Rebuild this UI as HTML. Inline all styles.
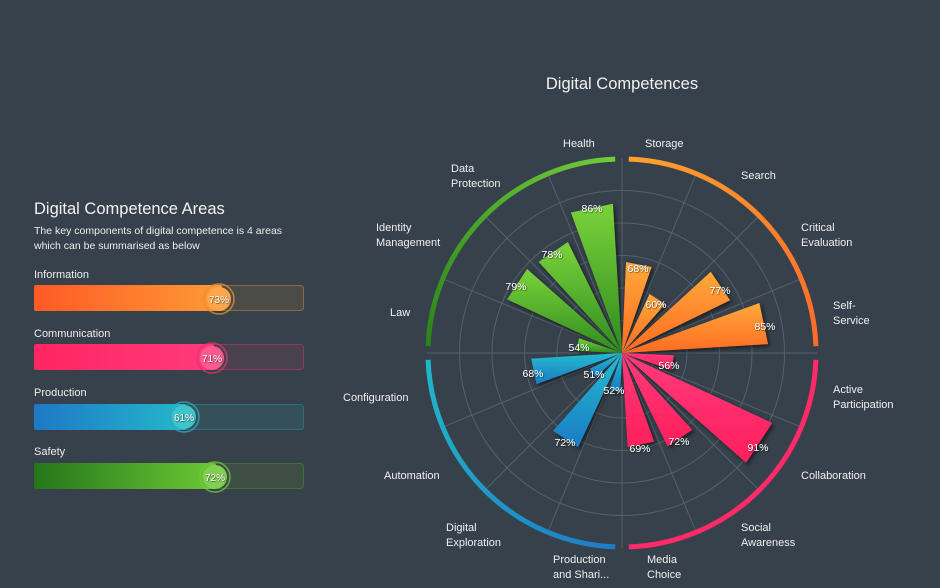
<!DOCTYPE html>
<html><head><meta charset="utf-8"><style>
body{margin:0;width:940px;height:588px;background:#36414b;overflow:hidden;font-family:"Liberation Sans",sans-serif;color:#fff}
svg{position:absolute;left:0;top:0}
</style></head><body>
<svg width="940" height="588" viewBox="0 0 940 588">
<defs>
<filter id="sh" x="-20%" y="-20%" width="140%" height="140%"><feDropShadow dx="2" dy="2" stdDeviation="2" flood-color="#000" flood-opacity="0.55"/></filter>
<filter id="ts"><feDropShadow dx="0.6" dy="0.6" stdDeviation="0.6" flood-color="#000" flood-opacity="0.8"/></filter>
<linearGradient id="og" x1="0" y1="0" x2="0" y2="1"><stop offset="0" stop-color="#ffa93a"/><stop offset="1" stop-color="#ff6a22"/></linearGradient>
<linearGradient id="pg" x1="0" y1="0" x2="0" y2="1"><stop offset="0" stop-color="#ff3a7c"/><stop offset="1" stop-color="#ff1f5c"/></linearGradient>
<linearGradient id="bg" x1="0" y1="0" x2="0" y2="1"><stop offset="0" stop-color="#22bcd0"/><stop offset="1" stop-color="#1d7bc4"/></linearGradient>
<linearGradient id="gg" x1="0" y1="0" x2="0" y2="1"><stop offset="0" stop-color="#7ad33a"/><stop offset="1" stop-color="#2f8a1f"/></linearGradient>
<linearGradient id="ro" gradientUnits="userSpaceOnUse" x1="628" y1="159" x2="816" y2="346"><stop offset="0" stop-color="#ffa030"/><stop offset="1" stop-color="#ff6a2a"/></linearGradient>
<linearGradient id="rb" gradientUnits="userSpaceOnUse" x1="428" y1="360" x2="615" y2="547"><stop offset="0" stop-color="#20b8c8"/><stop offset="1" stop-color="#1f7cc4"/></linearGradient>
<linearGradient id="rg" gradientUnits="userSpaceOnUse" x1="428" y1="346" x2="615" y2="159"><stop offset="0" stop-color="#2a841c"/><stop offset="1" stop-color="#72cb3a"/></linearGradient>
<linearGradient id="lo" x1="0" x2="1"><stop offset="0" stop-color="#ff5a25"/><stop offset="1" stop-color="#ff9a35"/></linearGradient>
<linearGradient id="lp" x1="0" x2="1"><stop offset="0" stop-color="#ff2560"/><stop offset="1" stop-color="#ff3a7c"/></linearGradient>
<linearGradient id="lb" x1="0" x2="1"><stop offset="0" stop-color="#1f78c4"/><stop offset="1" stop-color="#22b8cc"/></linearGradient>
<linearGradient id="lg" x1="0" x2="1"><stop offset="0" stop-color="#25761a"/><stop offset="1" stop-color="#6cc836"/></linearGradient>
</defs>

<!-- Left panel -->
<text x="34" y="214" font-size="16.5" fill="#f2f2f2">Digital Competence Areas</text>
<text x="34" y="234" font-size="10.5" fill="#eee">The key components of digital competence is 4 areas</text>
<text x="34" y="249" font-size="10.5" fill="#eee">which can be summarised as below</text>

<text x="34" y="278" font-size="11" fill="#eee">Information</text>
<rect x="34.5" y="285.5" width="269" height="25" rx="3" fill="#4b4c47" stroke="#8a6a3a"/>
<rect x="34" y="285" width="188" height="26" rx="2" fill="url(#lo)"/>
<circle cx="219" cy="299" r="15" fill="none" stroke="#e89030" stroke-width="1.5" opacity="0.8"/>
<circle cx="219" cy="299" r="12" fill="#ffa64a"/>
<text x="219" y="303" font-size="10" text-anchor="middle" fill="#fff" filter="url(#ts)">73%</text>

<text x="34" y="337" font-size="11" fill="#eee">Communication</text>
<rect x="34.5" y="344.5" width="269" height="25" rx="3" fill="#4a414f" stroke="#8e3a5e"/>
<rect x="34" y="344" width="180" height="26" rx="2" fill="url(#lp)"/>
<circle cx="212" cy="358" r="15" fill="none" stroke="#e8306a" stroke-width="1.5" opacity="0.8"/>
<circle cx="212" cy="358" r="12" fill="#ff5a90"/>
<text x="212" y="362" font-size="10" text-anchor="middle" fill="#fff" filter="url(#ts)">71%</text>

<text x="34" y="396" font-size="11" fill="#eee">Production</text>
<rect x="34.5" y="404.5" width="269" height="25" rx="3" fill="#36505a" stroke="#2a7080"/>
<rect x="34" y="404" width="152" height="26" rx="2" fill="url(#lb)"/>
<circle cx="184" cy="417" r="15" fill="none" stroke="#28b0c0" stroke-width="1.5" opacity="0.8"/>
<circle cx="184" cy="417" r="12" fill="#40c4cc"/>
<text x="184" y="421" font-size="10" text-anchor="middle" fill="#fff" filter="url(#ts)">61%</text>

<text x="34" y="455" font-size="11" fill="#eee">Safety</text>
<rect x="34.5" y="463.5" width="269" height="25" rx="3" fill="#3e4e45" stroke="#3e7038"/>
<rect x="34" y="463" width="182" height="26" rx="2" fill="url(#lg)"/>
<circle cx="215" cy="477" r="15" fill="none" stroke="#70c840" stroke-width="1.5" opacity="0.8"/>
<circle cx="215" cy="477" r="12" fill="#80d050"/>
<text x="215" y="481" font-size="10" text-anchor="middle" fill="#fff" filter="url(#ts)">72%</text>

<!-- Chart title -->
<text x="622" y="89" font-size="16.5" text-anchor="middle" fill="#f0f0f0">Digital Competences</text>

<!-- grid -->
<g fill="none" stroke="#56616b" stroke-width="1">
<circle cx="622" cy="353" r="32.5"/><circle cx="622" cy="353" r="65"/><circle cx="622" cy="353" r="97.5"/><circle cx="622" cy="353" r="130"/><circle cx="622" cy="353" r="162.5"/>
<line x1="622" y1="353" x2="622" y2="158"/>
<line x1="622" y1="353" x2="696.6" y2="172.8"/>
<line x1="622" y1="353" x2="759.9" y2="215.1"/>
<line x1="622" y1="353" x2="802.2" y2="278.4"/>
<line x1="622" y1="353" x2="817" y2="353"/>
<line x1="622" y1="353" x2="802.2" y2="427.6"/>
<line x1="622" y1="353" x2="759.9" y2="490.9"/>
<line x1="622" y1="353" x2="696.6" y2="533.2"/>
<line x1="622" y1="353" x2="622" y2="548"/>
<line x1="622" y1="353" x2="547.4" y2="533.2"/>
<line x1="622" y1="353" x2="484.1" y2="490.9"/>
<line x1="622" y1="353" x2="441.8" y2="427.6"/>
<line x1="622" y1="353" x2="427" y2="353"/>
<line x1="622" y1="353" x2="441.8" y2="278.4"/>
<line x1="622" y1="353" x2="484.1" y2="215.1"/>
<line x1="622" y1="353" x2="547.4" y2="172.8"/>
</g>

<!-- rings -->
<g fill="none" stroke-width="5">
<path d="M628.8,159.1 A194,194 0 0 1 815.9,346.2" stroke="url(#ro)"/>
<path d="M815.9,359.8 A194,194 0 0 1 628.8,546.9" stroke="#ff2a68"/>
<path d="M615.2,546.9 A194,194 0 0 1 428.1,359.8" stroke="url(#rb)"/>
<path d="M428.1,346.2 A194,194 0 0 1 615.2,159.1" stroke="url(#rg)"/>
</g>

<!-- bars -->
<g filter="url(#sh)">
<polygon points="622,353 626.0,262.1 651.6,267.0" fill="url(#og)"/>
<polygon points="622,353 649.5,294.1 665.1,304.3" fill="url(#og)"/>
<polygon points="622,353 710.7,271.8 730.1,300.3" fill="url(#og)"/>
<polygon points="622,353 759.4,303.0 768.0,344.1" fill="url(#og)"/>
<polygon points="622,353 673.9,355.3 671.2,369.9" fill="url(#pg)"/>
<polygon points="622,353 772.2,423.0 746.1,462.8" fill="url(#pg)"/>
<polygon points="622,353 692.3,429.7 667.6,446.5" fill="url(#pg)"/>
<polygon points="622,353 654.2,441.6 627.7,447.1" fill="url(#pg)"/>
<polygon points="622,353 620.3,392.0 609.3,389.9" fill="url(#bg)"/>
<polygon points="622,353 578.1,447.3 553.1,430.9" fill="url(#bg)"/>
<polygon points="622,353 595.6,377.2 589.9,368.7" fill="url(#bg)"/>
<polygon points="622,353 536.5,384.1 531.2,358.6" fill="url(#bg)"/>
<polygon points="622,353 576.5,351.0 579.0,338.2" fill="url(#gg)"/>
<polygon points="622,353 507.1,299.4 527.1,269.0" fill="url(#gg)"/>
<polygon points="622,353 538.6,261.9 567.9,242.0" fill="url(#gg)"/>
<polygon points="622,353 570.9,212.5 612.9,203.8" fill="url(#gg)"/>
</g>

<!-- value labels -->
<g font-size="10.5" text-anchor="middle" fill="#fff" filter="url(#ts)">
<text x="638" y="272">68%</text><text x="656" y="308">60%</text><text x="720" y="294">77%</text><text x="765" y="330">85%</text>
<text x="669" y="369">56%</text><text x="758" y="451">91%</text><text x="679" y="445">72%</text><text x="640" y="452">69%</text>
<text x="614" y="394">52%</text><text x="565" y="446">72%</text><text x="594" y="378">51%</text><text x="533" y="377">68%</text>
<text x="579" y="351">54%</text><text x="516" y="290">79%</text><text x="552" y="258">78%</text><text x="592" y="212">86%</text>
</g>

<!-- category labels -->
<g font-size="11" fill="#f0f0f0">
<text x="645" y="147">Storage</text>
<text x="563" y="147">Health</text>
<text x="741" y="179">Search</text>
<text x="801" y="231">Critical</text><text x="801" y="246">Evaluation</text>
<text x="833" y="309">Self-</text><text x="833" y="324">Service</text>
<text x="833" y="393">Active</text><text x="833" y="408">Participation</text>
<text x="801" y="479">Collaboration</text>
<text x="741" y="531">Social</text><text x="741" y="546">Awareness</text>
<text x="647" y="563">Media</text><text x="647" y="578">Choice</text>
<text x="553" y="563">Production</text><text x="553" y="578">and Shari...</text>
<text x="446" y="531">Digital</text><text x="446" y="546">Exploration</text>
<text x="384" y="479">Automation</text>
<text x="343" y="401">Configuration</text>
<text x="390" y="316">Law</text>
<text x="376" y="231">Identity</text><text x="376" y="246">Management</text>
<text x="451" y="172">Data</text><text x="451" y="187">Protection</text>
</g>
</svg>
</body></html>
